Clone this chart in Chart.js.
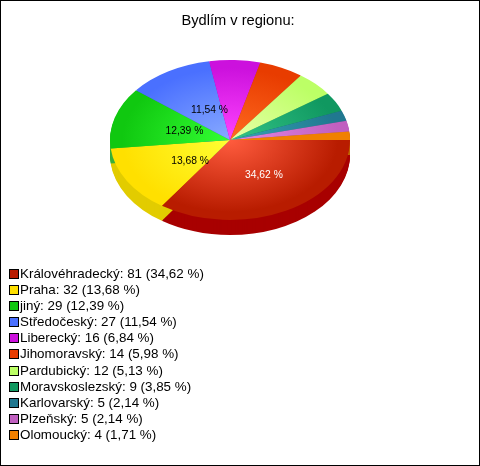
<!DOCTYPE html>
<html>
<head>
<meta charset="utf-8">
<script src="https://cdn.jsdelivr.net/npm/chart.js@4/dist/chart.umd.min.js"></script>
<style>
  body { margin: 0; background: #fff; }
  #wrap { position: relative; width: 480px; height: 466px; overflow: hidden; }
  #pie { position: absolute; left: 0; top: 0; }
  #legend { position: absolute; left: 9px; top: 266px; font: 13.4px "Liberation Sans", Arial, sans-serif; color: #000; }
  #legend div { height: 16.1px; line-height: 16px; white-space: nowrap; }
  #legend i { display: inline-block; position: relative; top: 1px; width: 8px; height: 8px; border: 1px solid #000; margin-right: 1px; }
</style>
</head>
<body>
<div id="wrap">
  <canvas id="pie" width="480" height="466"></canvas>
  <div id="legend"></div>
</div>
<script>
var categories = ['Královéhradecký', 'Praha', 'jiný', 'Středočeský', 'Liberecký', 'Jihomoravský', 'Pardubický', 'Moravskoslezský', 'Karlovarský', 'Plzeňský', 'Olomoucký'];
var counts = [81, 32, 29, 27, 16, 14, 12, 9, 5, 5, 4];
var percents = ['34,62', '13,68', '12,39', '11,54', '6,84', '5,98', '5,13', '3,85', '2,14', '2,14', '1,71'];

// colours: centre of the slice, rim of the slice, side wall
var innerColors = ['#ff5c3e', '#ffff33', '#33ff33', '#88aaff', '#ff44ff', '#ff6a20', '#e8ffa8', '#33c488', '#35a5b5', '#e488e4', '#f08000'];
var rimColors = ['#b81c00', '#ffe000', '#10c810', '#4a70ff', '#cc11dd', '#e83c00', '#bcff66', '#109860', '#207890', '#c060c0', '#f08000'];
var sideColors = ['#a80000', '#e2cc00', '#38b038', '#3a58cc', '#a00eb0', '#b83000', '#96cc50', '#0c7a4c', '#186070', '#9a4c9a', '#c06600'];

var pieCenterX = 230;
var pieCenterY = 140;
var tilt = 2 / 3;
var depth = 15;

// squash the round pie to an ellipse
function tiltContext(ctx, arc, shift) {
  ctx.translate(pieCenterX, pieCenterY + shift);
  ctx.scale(1, tilt);
  ctx.translate(-arc.x, -arc.y);
}

var pie3d = {
  id: 'pie3d',
  beforeDatasetsDraw: function(chart) {
    var ctx = chart.ctx;
    var arcs = chart.getDatasetMeta(0).data;
    arcs.forEach(function(arc, i) {
      ctx.fillStyle = sideColors[i];
      for (var d = depth; d > 0; d--) {
        ctx.save();
        tiltContext(ctx, arc, d);
        ctx.beginPath();
        ctx.moveTo(arc.x, arc.y);
        ctx.arc(arc.x, arc.y, arc.outerRadius, arc.startAngle, arc.endAngle);
        ctx.closePath();
        ctx.fill();
        ctx.restore();
      }
    });
    ctx.save();
    tiltContext(ctx, arcs[0], 0);
  },
  afterDatasetsDraw: function(chart) {
    var ctx = chart.ctx;
    ctx.restore();
    var arcs = chart.getDatasetMeta(0).data;
    ctx.save();
    ctx.font = '10.3px "Liberation Sans", Arial, sans-serif';
    ctx.textAlign = 'center';
    ctx.textBaseline = 'middle';
    arcs.forEach(function(arc, i) {
      if (counts[i] < 20) return;
      var p = arc.getCenterPoint();
      ctx.fillStyle = i === 0 ? '#fff' : '#000';
      ctx.fillText(percents[i] + ' %', pieCenterX + (p.x - arc.x) * 0.93 + 8, pieCenterY + (p.y - arc.y) * tilt * 0.93 + 2);
    });
    ctx.restore();
    // frame
    ctx.strokeStyle = '#000';
    ctx.strokeRect(0.5, 0.5, chart.width - 1, chart.height - 1);
  }
};

new Chart(document.getElementById('pie').getContext('2d'), {
  type: 'pie',
  plugins: [pie3d],
  data: {
    labels: categories,
    datasets: [{
      data: counts,
      borderWidth: 0,
      backgroundColor: function(c) {
        var area = c.chart.chartArea;
        if (!area) return rimColors[c.dataIndex];
        var x = (area.left + area.right) / 2, y = (area.top + area.bottom) / 2;
        var r = Math.min(area.width, area.height) / 2;
        var g = c.chart.ctx.createRadialGradient(x, y, 0, x, y, r);
        g.addColorStop(0, innerColors[c.dataIndex]);
        g.addColorStop(0.9, rimColors[c.dataIndex]);
        return g;
      }
    }]
  },
  options: {
    responsive: false,
    animation: false,
    rotation: 90,
    layout: { padding: { left: 118, right: 122, top: 0, bottom: 190 } },
    plugins: {
      legend: { display: false },
      tooltip: { enabled: false },
      title: {
        display: true,
        text: 'Bydlím v regionu:',
        color: '#000',
        font: { family: '"Liberation Sans", Arial, sans-serif', size: 14.67, weight: 'normal' },
        padding: { top: 12, bottom: 6 }
      }
    }
  }
});

var legend = document.getElementById('legend');
categories.forEach(function(name, i) {
  var row = document.createElement('div');
  var box = document.createElement('i');
  box.style.background = rimColors[i];
  row.appendChild(box);
  row.appendChild(document.createTextNode(name + ': ' + counts[i] + ' (' + percents[i] + ' %)'));
  legend.appendChild(row);
});
</script>
</body>
</html>
